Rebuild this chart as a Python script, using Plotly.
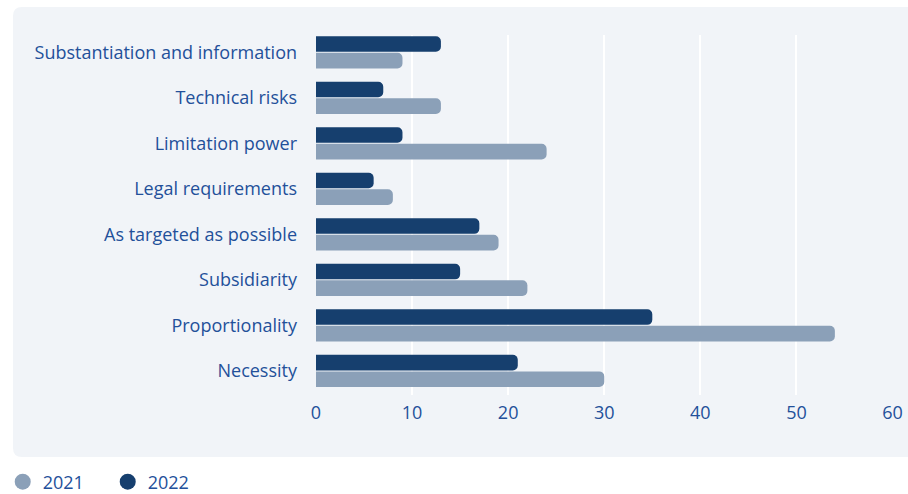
import plotly.graph_objects as go

# Criteria, listed bottom to top as drawn on the category axis
criteria = [
    "Necessity",
    "Proportionality",
    "Subsidiarity",
    "As targeted as possible",
    "Legal requirements",
    "Limitation power",
    "Technical risks",
    "Substantiation and information",
]
values_2021 = [30, 54, 22, 19, 8, 24, 13, 9]
values_2022 = [21, 35, 15, 17, 6, 9, 7, 13]
x_ticks = [0, 10, 20, 30, 40, 50, 60]

COLOR_2021 = "#8BA0B8"
COLOR_2022 = "#163F6E"
TEXT_COLOR = "#23509A"
PANEL_COLOR = "#F1F4F8"
FONT = "Open Sans"
FONT_SIZE = 18

W, H = 908, 494
ML, MR, MT, MB = 316, 15, 35, 99
PW, PH = W - ML - MR, H - MT - MB


def px_to_paper(px, py):
    return (px - ML) / PW, (H - MB - py) / PH


def rounded_panel(x0, y0, x1, y1, r):
    # rounded rectangle laid out in pixels, expressed in paper coordinates
    def p(x, y):
        fx, fy = px_to_paper(x, y)
        return f"{fx:.5f},{fy:.5f}"
    return (
        f"M {p(x0 + r, y0)} L {p(x1 - r, y0)} Q {p(x1, y0)} {p(x1, y0 + r)} "
        f"L {p(x1, y1 - r)} Q {p(x1, y1)} {p(x1 - r, y1)} "
        f"L {p(x0 + r, y1)} Q {p(x0, y1)} {p(x0, y1 - r)} "
        f"L {p(x0, y0 + r)} Q {p(x0, y0)} {p(x0 + r, y0)} Z"
    )


fig = go.Figure()

fig.add_trace(go.Bar(
    y=criteria, x=values_2021, orientation="h", name="2021",
    marker=dict(color=COLOR_2021, line=dict(width=0)), showlegend=False,
))
fig.add_trace(go.Bar(
    y=criteria, x=values_2022, orientation="h", name="2022",
    marker=dict(color=COLOR_2022, line=dict(width=0)), showlegend=False,
))

# circular legend markers
for name, color in [("2021", COLOR_2021), ("2022", COLOR_2022)]:
    fig.add_trace(go.Scatter(
        x=[None], y=[None], mode="markers", name=name,
        marker=dict(symbol="circle", size=16, color=color),
    ))

fig.add_shape(
    type="path", xref="paper", yref="paper", layer="below",
    path=rounded_panel(13, 7, 925, 457, 9),
    fillcolor=PANEL_COLOR, line=dict(width=0),
)

fig.update_layout(
    width=W, height=H,
    margin=dict(l=ML, r=MR, t=MT, b=MB, pad=0, autoexpand=False),
    paper_bgcolor="white",
    plot_bgcolor="rgba(0,0,0,0)",
    barmode="group",
    bargap=0.27,
    bargroupgap=0.06,
    barcornerradius=5,
    font=dict(family=FONT, size=FONT_SIZE, color=TEXT_COLOR),
    xaxis=dict(
        range=[0, 60.05], tickvals=x_ticks, showgrid=True, gridcolor="white",
        gridwidth=2, zeroline=False, showline=False,
        tickfont=dict(size=FONT_SIZE, color=TEXT_COLOR), ticklabelstandoff=5,
    ),
    yaxis=dict(
        type="category", categoryorder="array", categoryarray=criteria,
        range=[-0.53, 7.38], showgrid=False, zeroline=False, showline=False,
        tickfont=dict(size=FONT_SIZE, color=TEXT_COLOR), ticklabelstandoff=18,
    ),
    legend=dict(
        orientation="h", xref="container", yref="container",
        x=0.003, xanchor="left", y=(H - 482) / H, yanchor="middle",
        font=dict(size=FONT_SIZE, color=TEXT_COLOR),
        entrywidth=60, bgcolor="rgba(0,0,0,0)",
    ),
)

fig.write_html("out.html")
